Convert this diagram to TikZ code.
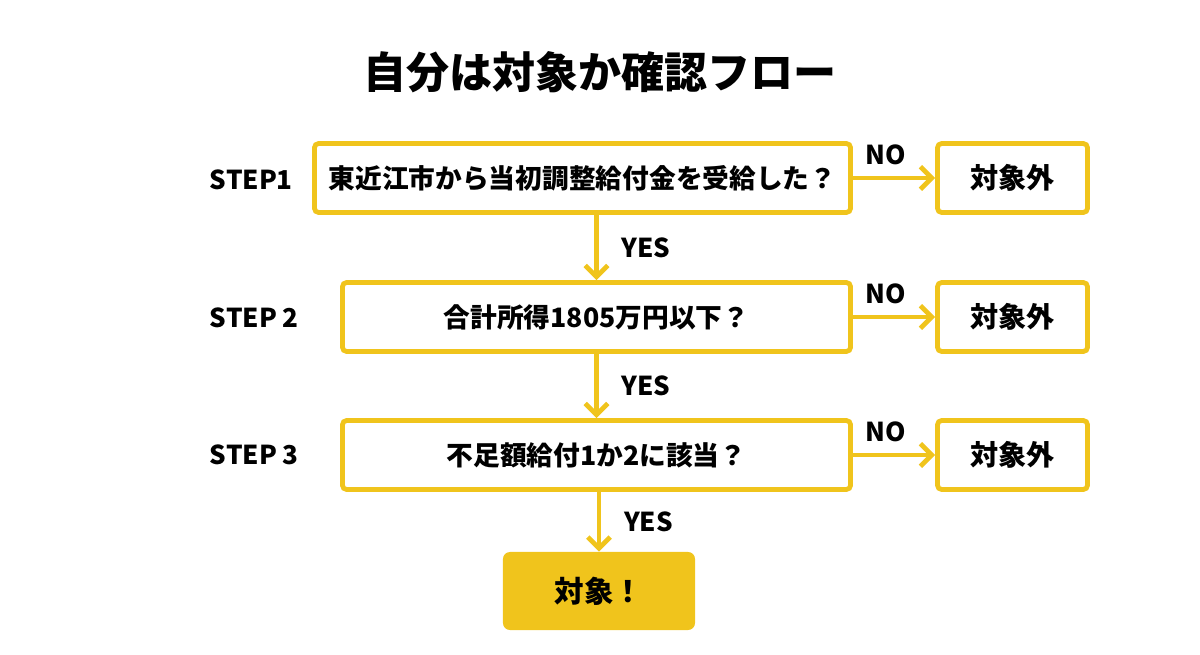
\documentclass[tikz,border=0pt]{standalone}
\usepackage{fontspec}
\setmainfont{Noto Sans CJK JP}
\usepackage{xcolor}
\usetikzlibrary{arrows.meta}
\definecolor{stepyellow}{RGB}{240,196,28}

\begin{document}
\begin{tikzpicture}[x=0.025cm,y=-0.025cm,font=\bfseries,
  qbox/.style={draw=stepyellow,line width=3.4pt,rounded corners=3pt,inner sep=0pt,minimum height=1.725cm,font=\fontsize{19}{22}\selectfont\bfseries},
  outbox/.style={qbox,minimum width=3.75cm,font=\fontsize{20}{23}\selectfont\bfseries},
  flow/.style={draw=stepyellow,line width=3.4pt,-{Straight Barb[length=8pt,width=16pt,line width=3.4pt]}},
  lbl/.style={font=\fontsize{18.5}{21}\selectfont\bfseries}]
\useasboundingbox (0,0) rectangle (1200,655);
\node[font=\fontsize{30.6}{34}\selectfont\bfseries] (title) at (600,72) {自分は対象か確認フロー};
% questions
\node[qbox,minimum width=13.4cm] (q1) at (582.5,178) {東近江市から当初調整給付金を受給した？};
\node[qbox,minimum width=12.7cm] (q2) at (596.5,317) {合計所得1805万円以下？};
\node[qbox,minimum width=12.7cm] (q3) at (596.5,455) {不足額給付1か2に該当？};
\node[outbox] (out1) at (1012.5,178) {対象外};
\node[outbox] (out2) at (1012.5,317) {対象外};
\node[outbox] (out3) at (1012.5,455) {対象外};
\node[fill=stepyellow,rounded corners=5pt,minimum width=4.8cm,minimum height=1.95cm,font=\fontsize{21}{24}\selectfont\bfseries] (goal) at (599,591) {対象！};
% steps
\node[lbl,anchor=west] (s1) at (205,180) {STEP1};
\node[lbl,anchor=west] (s2) at (205,318) {STEP 2};
\node[lbl,anchor=west] (s3) at (205,455) {STEP 3};
% arrows
\draw[flow] (q1.south -| q2.north) -- node[lbl,midway,right=0.45cm] {YES} (q2.north);
\draw[flow] (q2.south) -- node[lbl,midway,right=0.45cm] {YES} (q3.north);
\draw[flow] (q3.south -| goal.north) -- node[lbl,midway,right=0.45cm] {YES} (goal.north);
\draw[flow] (q1.east) -- node[lbl,midway,above=0.15cm,xshift=-6] {NO} (out1.west);
\draw[flow] (q2.east) -- node[lbl,midway,above=0.15cm,xshift=-6] {NO} (out2.west);
\draw[flow] (q3.east) -- node[lbl,midway,above=0.15cm,xshift=-6] {NO} (out3.west);
\end{tikzpicture}
\end{document}
